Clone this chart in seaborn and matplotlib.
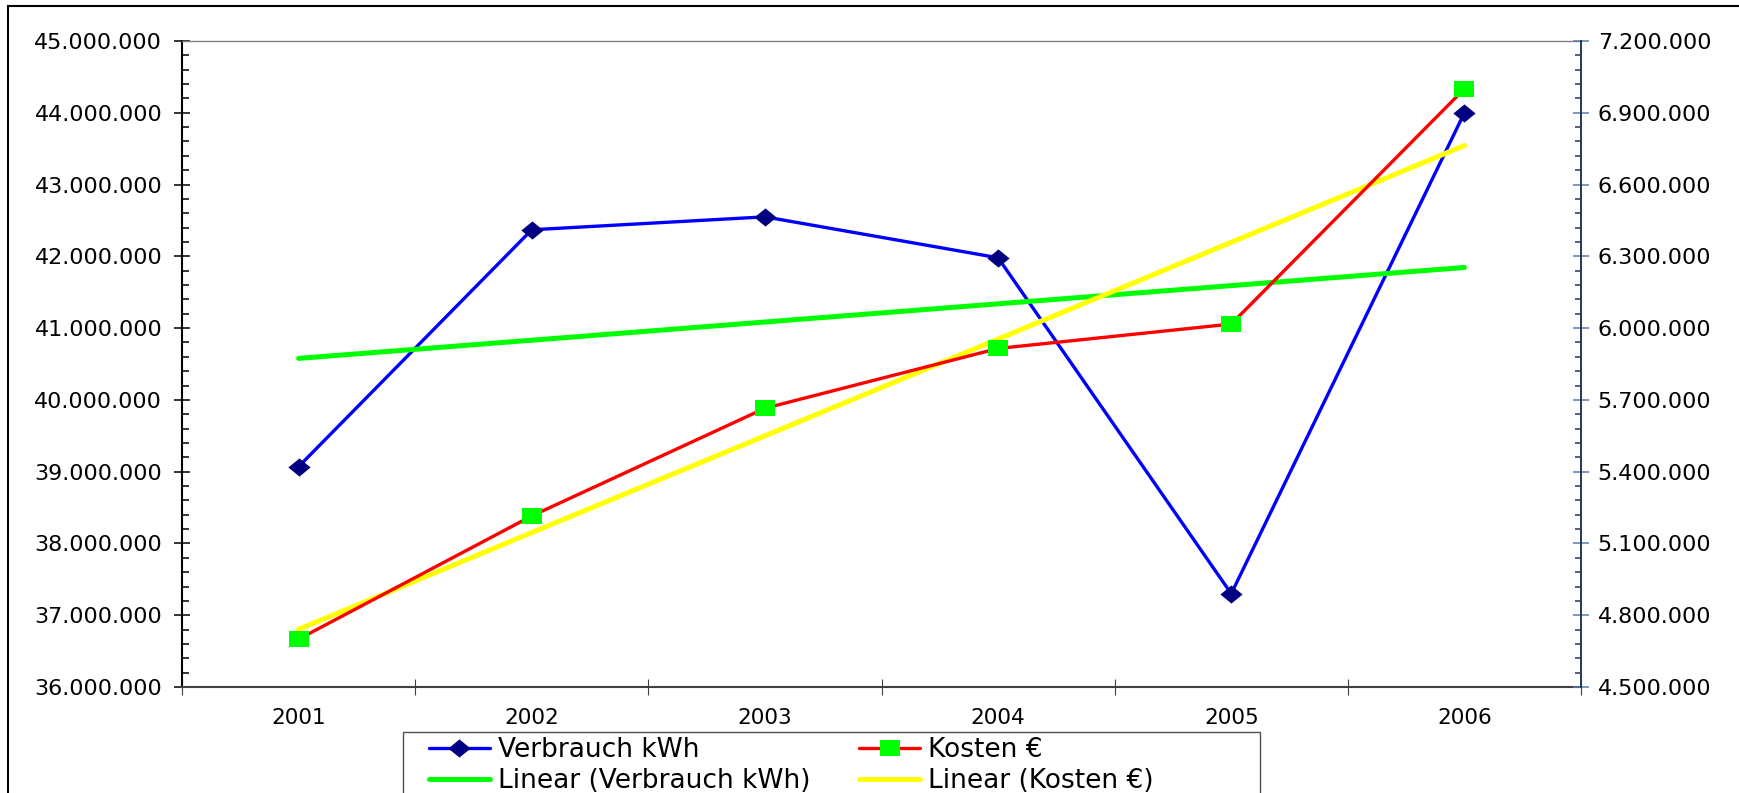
import numpy as np
import pandas as pd
import matplotlib
matplotlib.use("Agg")
import matplotlib.pyplot as plt
import seaborn as sns
from matplotlib.ticker import FuncFormatter, MultipleLocator, FixedLocator
from matplotlib.patches import Rectangle

# ---- data ----
years = ["2001", "2002", "2003", "2004", "2005", "2006"]
verbrauch_kwh = [39070000, 42370000, 42550000, 41980000, 37300000, 44000000]
kosten_eur = [4700000, 5215000, 5665000, 5915000, 6017000, 7000000]

label_v = "Verbrauch kWh"
label_k = "Kosten €"
label_lv = "Linear (Verbrauch kWh)"
label_lk = "Linear (Kosten €)"

idx = np.arange(len(years))
fit_v = np.polyval(np.polyfit(idx, verbrauch_kwh, 1), idx)
fit_k = np.polyval(np.polyfit(idx, kosten_eur, 1), idx)

df = pd.DataFrame({"x": idx, "v": verbrauch_kwh, "k": kosten_eur,
                   "fv": fit_v, "fk": fit_k})

sns.set_theme(style="white")
plt.rcParams["font.family"] = ["DejaVu Sans"]
plt.rcParams["text.color"] = "black"

W, H = 1739, 793
fig = plt.figure(figsize=(W / 100, H / 100), dpi=100)
fig.patch.set_facecolor("white")

# outer chart-area frame (clipped at right/bottom in the reference)
fig.patches.append(Rectangle((8 / W, -0.2), 1.2, 1.2 - 6 / H,
                             transform=fig.transFigure, fill=False,
                             edgecolor="black", linewidth=1.5, zorder=0))

L, R, T, B = 182, 1581, 41, 687
ax1 = fig.add_axes([L / W, 1 - B / H, (R - L) / W, (B - T) / H])
ax2 = ax1.twinx()
ax1.set_facecolor("white")

diamond = [(-11, 0), (0, 9), (11, 0), (0, -9), (-11, 0)]
square = [(-9.5, -7.5), (9.5, -7.5), (9.5, 7.5), (-9.5, 7.5), (-9.5, -7.5)]

sns.lineplot(data=df, x="x", y="v", ax=ax1, color="#0000FF", linewidth=2.4,
             marker=diamond, markersize=16, markerfacecolor="#000080",
             markeredgecolor="#000080", markeredgewidth=0, label=label_v,
             legend=False)
sns.lineplot(data=df, x="x", y="fv", ax=ax1, color="#00FF00", linewidth=3.6,
             label=label_lv, legend=False, solid_capstyle="round")
sns.lineplot(data=df, x="x", y="k", ax=ax2, color="#FF0000", linewidth=2.4,
             marker=square, markersize=14, markerfacecolor="#00FF00",
             markeredgecolor="#00FF00", markeredgewidth=0, label=label_k,
             legend=False, zorder=3)
sns.lineplot(data=df, x="x", y="fk", ax=ax2, color="#FFFF00", linewidth=3.6,
             label=label_lk, legend=False, solid_capstyle="round", zorder=2)

# axes ranges
ax1.set_xlim(-0.5, len(years) - 0.5)
ax1.set_ylim(36000000, 45000000)
ax2.set_ylim(4500000, 7200000)

fmt = FuncFormatter(lambda v, p: f"{int(round(v)):,}".replace(",", "."))

ax1.yaxis.set_major_locator(MultipleLocator(1000000))
ax1.yaxis.set_minor_locator(MultipleLocator(200000))
ax1.yaxis.set_major_formatter(fmt)
ax2.yaxis.set_major_locator(MultipleLocator(300000))
ax2.yaxis.set_minor_locator(MultipleLocator(60000))
ax2.yaxis.set_major_formatter(fmt)

# x: tick marks at category boundaries, labels at centres
ax1.xaxis.set_major_locator(FixedLocator(np.arange(-0.5, len(years), 1.0)))
ax1.xaxis.set_major_formatter(FuncFormatter(lambda v, p: ""))
ax1.set_xticks(idx, labels=years, minor=True)
ax1.tick_params(axis="x", which="major", direction="inout", length=11,
                width=0.8, color="#404040", bottom=True)
ax1.tick_params(axis="x", which="minor", length=0, pad=15, labelsize=15.5,
                labelcolor="black", bottom=True)

ax1.tick_params(axis="y", which="major", direction="inout", length=11.5,
                width=1.1, color="black", labelsize=16, pad=8.5,
                labelcolor="black", left=True)
ax1.tick_params(axis="y", which="minor", direction="in", length=5,
                width=1.1, color="black", left=True)
ax2.tick_params(axis="y", which="major", direction="inout", length=12,
                width=1.1, color="#5A7DA6", labelsize=16, pad=6,
                labelcolor="black", right=True)
ax2.tick_params(axis="y", which="minor", direction="in", length=4.5,
                width=1.1, color="#1F3864", right=True)

ax1.set_xlabel("")
ax1.set_ylabel("")
ax2.set_ylabel("")

for s in ["top", "left", "bottom", "right"]:
    ax2.spines[s].set_visible(False)
ax2.spines["right"].set_visible(True)
ax2.spines["right"].set_color("#1F3864")
ax2.spines["right"].set_linewidth(1.4)
ax1.spines["right"].set_visible(False)
ax1.spines["top"].set_color("#808080")
ax1.spines["top"].set_linewidth(1.0)
ax1.spines["left"].set_color("black")
ax1.spines["left"].set_linewidth(1.5)
ax1.spines["bottom"].set_color("#404040")
ax1.spines["bottom"].set_linewidth(1.5)
ax1.grid(False)
ax2.grid(False)

# legend frame (drawn manually, clipped at bottom)
fig.patches.append(Rectangle((403 / W, -0.2), (1260 - 403) / W,
                             (1 - 732 / H) + 0.2, transform=fig.transFigure,
                             fill=False, edgecolor="#505050", linewidth=1.0))

h1 = ax1.get_lines()
h2 = ax2.get_lines()
handles = [h1[0], h1[1], h2[0], h2[1]]
labels = [label_v, label_lv, label_k, label_lk]
fig.legend(handles, labels, loc="upper left",
           bbox_to_anchor=(429 / W, 1 - 737 / H), ncol=2, frameon=False,
           fontsize=19, borderpad=0, borderaxespad=0, labelspacing=0.18,
           handlelength=2.31, handletextpad=0.3, columnspacing=1.85,
           numpoints=1)

fig.savefig("out.png", dpi=100)
